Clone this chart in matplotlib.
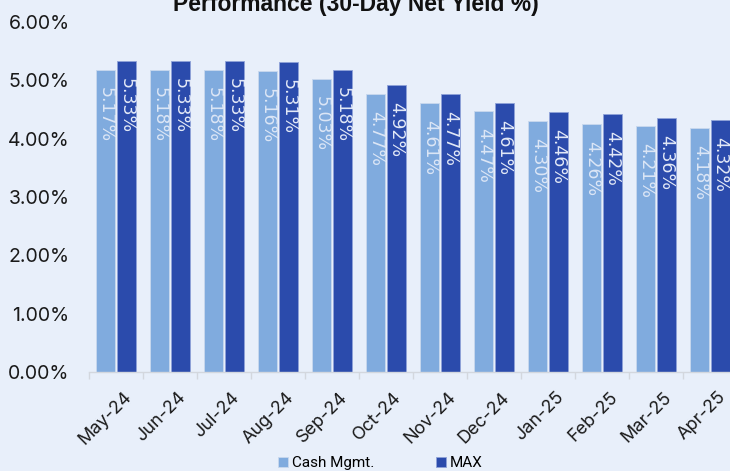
import numpy as np
import matplotlib
matplotlib.use('Agg')
import matplotlib.pyplot as plt
import matplotlib.transforms as mtransforms
from matplotlib.ticker import FixedLocator, PercentFormatter

months = ['May-24', 'Jun-24', 'Jul-24', 'Aug-24', 'Sep-24', 'Oct-24',
          'Nov-24', 'Dec-24', 'Jan-25', 'Feb-25', 'Mar-25', 'Apr-25']
cash_mgmt = [5.17, 5.18, 5.18, 5.16, 5.03, 4.77, 4.61, 4.47, 4.30, 4.26, 4.21, 4.18]
max_fund = [5.33, 5.33, 5.33, 5.31, 5.18, 4.92, 4.77, 4.61, 4.46, 4.42, 4.36, 4.32]

bg = '#E8EFFA'
c_cash = '#80ABDE'
c_max = '#2B4BAC'

plt.rcParams['font.family'] = ['Inter', 'DejaVu Sans']

fig = plt.figure(figsize=(7.3, 4.71), dpi=100, facecolor=bg)
ax = fig.add_axes([89/730, 1-372/471, 648/730, 350/471])
ax.set_facecolor(bg)

x = np.arange(len(months))
w = 0.36
b1 = ax.bar(x - 0.19, cash_mgmt, w, color=c_cash, edgecolor='#C9D8EE', linewidth=0.6,
            label='Cash Mgmt.')
b2 = ax.bar(x + 0.19, max_fund, w, color=c_max, edgecolor='#8FA3D8', linewidth=0.6,
            label='MAX')

for bars, vals, col in [(b1, cash_mgmt, '#DCE6F6'), (b2, max_fund, '#E3E9F7')]:
    for r, v in zip(bars, vals):
        ax.annotate('%.2f%%' % v, (r.get_x() + r.get_width()/2, v),
                    xytext=(0, -17), textcoords='offset pixels',
                    rotation=270, ha='center', va='top', color=col,
                    fontsize=12.5, family=['Liberation Sans Narrow', 'DejaVu Sans'])

ax.set_xlim(-0.5, len(months) - 0.5)
ax.set_ylim(0, 6)
ax.yaxis.set_major_locator(FixedLocator([0, 1, 2, 3, 4, 5, 6]))
ax.yaxis.set_major_formatter(PercentFormatter(decimals=2))
ax.tick_params(axis='y', length=0, pad=14, labelsize=14, labelcolor='#1A1A1A')

ax.set_xticks(x)
ax.set_xticklabels(months, rotation=45, ha='right', va='top', rotation_mode='anchor')
ax.set_xticks(np.arange(-0.5, len(months)), minor=True)
ax.tick_params(axis='x', which='major', length=0, pad=12, labelsize=13, labelcolor='#1A1A1A')
ax.tick_params(axis='x', which='minor', length=5, width=1, color='#D3D7DE')
shift = mtransforms.ScaledTranslation(7/100, 0, fig.dpi_scale_trans)
for lab in ax.get_xticklabels():
    lab.set_transform(lab.get_transform() + shift)

for s in ['top', 'right', 'left']:
    ax.spines[s].set_visible(False)
ax.spines['bottom'].set_color('#D3D7DE')
ax.spines['bottom'].set_linewidth(1)

fig.text(0.488, 1 - 11/471, 'Performance (30-Day Net Yield %)', ha='center', va='baseline',
         fontsize=16.5, fontweight='bold', family=['Liberation Sans', 'DejaVu Sans'],
         color='#111111')

fig.legend(loc='center', bbox_to_anchor=(0.521, 1 - 463/471), ncol=2, frameon=False,
           handlelength=0.65, handleheight=0.65, handletextpad=0.3, columnspacing=4.0,
           prop={'family': ['Roboto', 'DejaVu Sans'], 'size': 11})

fig.savefig('out.png', dpi=100, facecolor=bg)
